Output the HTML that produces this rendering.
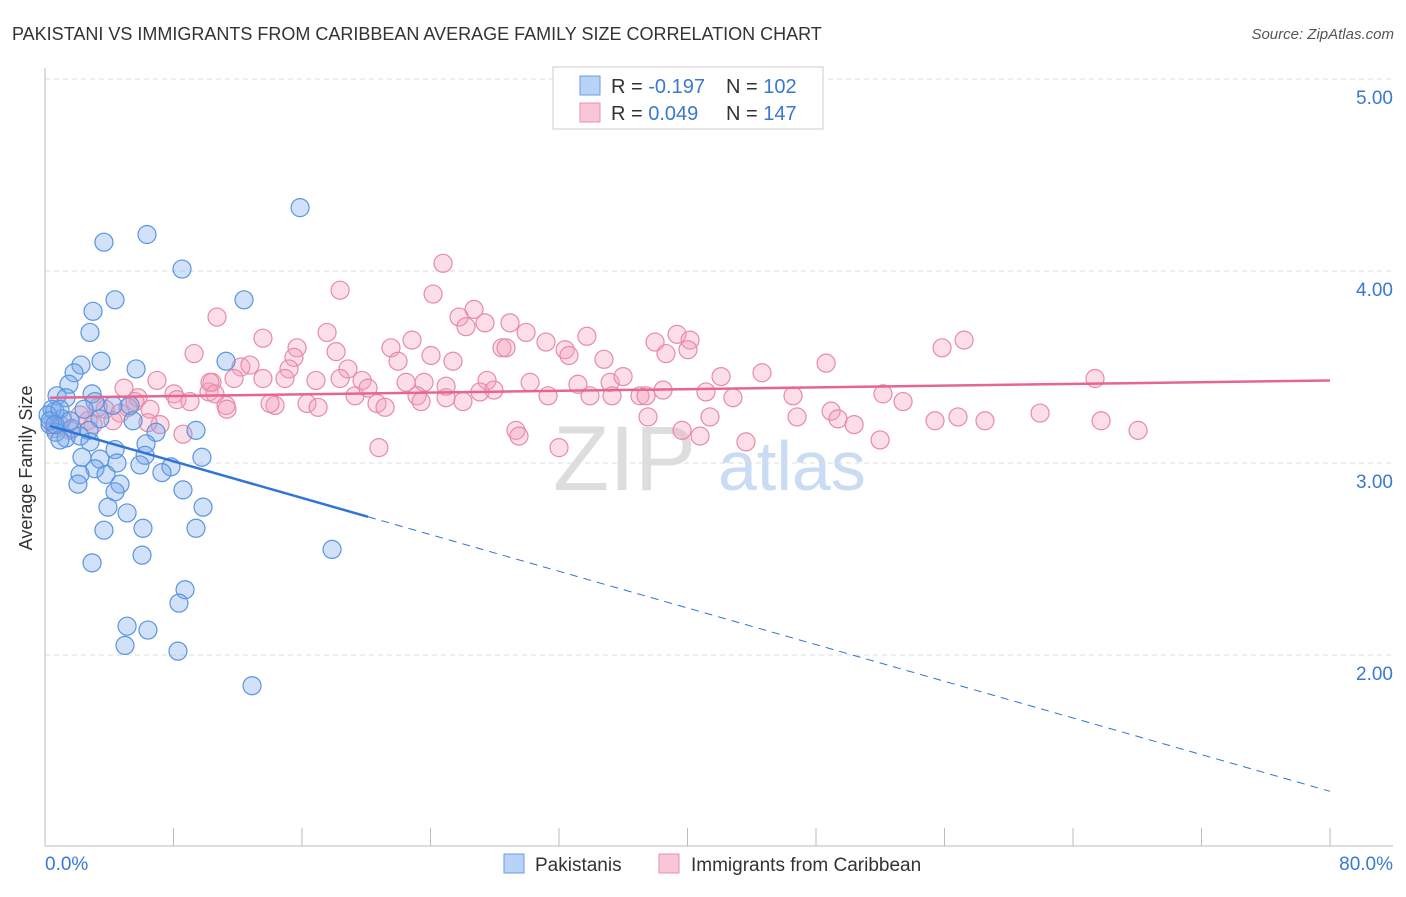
<!DOCTYPE html>
<html><head><meta charset="utf-8"><style>
body{margin:0;background:#fff;font-family:"Liberation Sans",sans-serif;}
svg text{font-family:"Liberation Sans",sans-serif;}
</style></head><body>
<svg id="c" width="1406" height="892" viewBox="0 0 1406 892" xmlns="http://www.w3.org/2000/svg">
<text x="12" y="40" font-size="18" fill="#333">PAKISTANI VS IMMIGRANTS FROM CARIBBEAN AVERAGE FAMILY SIZE CORRELATION CHART</text>
<text x="1394" y="39" font-size="15" fill="#555" font-style="italic" text-anchor="end">Source: ZipAtlas.com</text>
<g>
<text x="553" y="490" font-size="92" fill="#ddd" font-family="Liberation Serif">ZIP</text>
<text x="718" y="490" font-size="70" fill="#c9dcf3">atlas</text>
</g>
<g id="grid"></g><g id="axes"></g><g id="pts"></g><g id="trend"></g>
<g>
<rect x="553" y="67" width="270" height="62" fill="#fff" stroke="#ccc"/>
<rect x="580" y="76" width="20" height="19" fill="#b8d3f5" stroke="#6a9ee0"/>
<rect x="580" y="103" width="20" height="19" fill="#f9c6d6" stroke="#e890ad"/>
<text x="611" y="93" font-size="20" fill="#333">R = <tspan fill="#3a78d4">-0.197</tspan></text>
<text x="726" y="93" font-size="20" fill="#333">N = <tspan fill="#3a78d4">102</tspan></text>
<text x="611" y="120" font-size="20" fill="#333">R = <tspan fill="#3a78d4"> 0.049</tspan></text>
<text x="726" y="120" font-size="20" fill="#333">N = <tspan fill="#3a78d4">147</tspan></text>
</g>
<g>
<rect x="504" y="854" width="20" height="19" fill="#b8d3f5" stroke="#6a9ee0"/>
<text x="535" y="871" font-size="19" fill="#333">Pakistanis</text>
<rect x="659" y="854" width="20" height="19" fill="#f9c6d6" stroke="#e890ad"/>
<text x="691" y="871" font-size="19" fill="#333">Immigrants from Caribbean</text>
</g>
<text x="20" y="456" font-size="18" fill="#333" transform="rotate(-90 32 456)" text-anchor="middle">Average Family Size</text>
</svg>
<script>
const yTicks=[5,4,3,2];
const yTickLabels=["5.00","4.00","3.00","2.00"];
const xTickLabels=["0.0%","80.0%"];
const blueX=[15.88,6.35,3.67,8.53,4.36,12.39,2.99,2.80,3.49,2.24,1.81,5.67,11.27,1.49,2.93,0.75,1.31,3.11,4.23,5.29,2.43,0.62,1.06,3.42,5.48,1.68,2.74,0.31,0.68,1.31,2.18,2.80,6.91,9.40,6.29,0.93,4.36,6.23,9.77,2.30,3.42,4.48,5.91,7.84,3.11,2.18,3.80,7.28,4.67,2.05,8.59,4.36,9.84,3.92,5.11,3.67,6.10,9.40,17.87,2.93,6.04,8.72,8.34,5.11,6.41,4.98,8.28,12.89,0.44,0.19,0.31,0.93,1.56,0.62];
const blueY=[4.33,4.19,4.15,4.01,3.85,3.85,3.79,3.68,3.53,3.51,3.47,3.49,3.53,3.41,3.36,3.35,3.34,3.32,3.30,3.30,3.28,3.27,3.23,3.23,3.22,3.18,3.17,3.20,3.16,3.13,3.14,3.11,3.16,3.17,3.10,3.12,3.07,3.04,3.03,3.03,3.02,3.00,2.99,2.98,2.97,2.94,2.94,2.95,2.89,2.89,2.86,2.85,2.77,2.77,2.74,2.65,2.66,2.66,2.55,2.48,2.52,2.34,2.27,2.15,2.13,2.05,2.02,1.84,3.28,3.25,3.22,3.28,3.22,3.20];
const pinkX=[24.78,18.37,24.16,10.71,13.57,9.28,26.71,25.78,27.39,26.21,28.95,17.56,15.69,18.12,15.50,21.54,22.85,29.95,31.19,28.45,28.70,32.38,33.74,32.62,37.98,39.35,40.16,40.03,38.66,34.80,24.03,25.40,21.98,18.86,12.20,12.76,15.19,11.77,10.40,6.97,4.92,8.03,10.21,10.27,13.57,14.94,16.87,18.37,19.74,22.48,23.60,27.52,30.20,33.18,35.18,35.99,35.30,37.04,37.42,42.09,44.64,48.63,55.85,57.22,65.37,46.57,42.83,41.15,52.17,53.42,5.79,5.60,3.74,6.54,8.22,9.03,11.27,11.33,14.32,14.01,16.31,17.00,19.30,20.67,21.17,23.16,23.41,24.97,26.02,27.08,27.95,31.32,33.93,38.48,37.54,41.40,39.66,40.78,43.64,46.82,48.94,49.37,50.37,51.99,55.41,56.84,58.52,61.95,65.75,68.05,29.32,29.51,20.79,32.00,8.59,7.16,3.30,4.67,2.68,1.56,0.93,0.62,2.18,2.99,4.23,5.17,6.41,10.58,20.11,24.97];
const pinkY=[4.04,3.90,3.88,3.76,3.65,3.57,3.80,3.76,3.73,3.71,3.73,3.68,3.60,3.58,3.55,3.60,3.64,3.68,3.63,3.60,3.60,3.59,3.66,3.56,3.63,3.67,3.64,3.59,3.57,3.54,3.56,3.53,3.53,3.49,3.50,3.51,3.49,3.44,3.42,3.43,3.39,3.36,3.37,3.42,3.44,3.44,3.43,3.44,3.43,3.42,3.42,3.43,3.42,3.41,3.42,3.45,3.35,3.35,3.35,3.45,3.47,3.52,3.60,3.64,3.44,3.35,3.34,3.37,3.36,3.32,3.34,3.32,3.28,3.28,3.33,3.32,3.30,3.28,3.30,3.31,3.31,3.29,3.35,3.31,3.29,3.35,3.32,3.34,3.32,3.37,3.38,3.35,3.35,3.38,3.24,3.24,3.17,3.14,3.11,3.24,3.27,3.23,3.20,3.12,3.22,3.24,3.22,3.26,3.22,3.17,3.17,3.14,3.08,3.08,3.15,3.20,3.29,3.26,3.22,3.17,3.20,3.18,3.25,3.20,3.22,3.29,3.21,3.36,3.39,3.40];
const blueTrend=[3.20,1.29]; // y at x=0 and x=80
const blueSolidEnd=20.11;
const pinkTrend=[3.34,3.43];

const NS="http://www.w3.org/2000/svg";
const X0=45,X1=1330,YTOP=79,PX_PER=192;
const sx=v=>X0+(v/80)*(X1-X0);
const sy=v=>YTOP+(5-v)*PX_PER;
function mk(tag,attrs,parent){const e=document.createElementNS(NS,tag);for(const k in attrs)e.setAttribute(k,attrs[k]);parent.appendChild(e);return e;}
const grid=document.getElementById('grid'),axes=document.getElementById('axes'),pts=document.getElementById('pts'),trend=document.getElementById('trend');
yTicks.forEach((t,i)=>{
 const l=mk('line',{x1:45,x2:1393,y1:sy(t),y2:sy(t),stroke:'#ddd','stroke-dasharray':'5,4'},grid);
 
 
 const tx=mk('text',{x:1393,y:sy(t)+25,'font-size':19,fill:'#3a78d4','text-anchor':'end'},axes);
 tx.textContent=yTickLabels[i];
 
 
});
let a=mk('line',{x1:45,x2:45,y1:68,y2:846,stroke:'#bbb'},axes);


a=mk('line',{x1:45,x2:1393,y1:846,y2:846,stroke:'#bbb'},axes);


for(let k=0;k<=10;k++){
 const t=mk('line',{x1:sx(k*8),x2:sx(k*8),y1:828,y2:846,stroke:'#bbb'},axes);
 
 
}
let xl=mk('text',{x:45,y:870,'font-size':19,fill:'#3a78d4'},axes);xl.textContent=xTickLabels[0];


xl=mk('text',{x:1393,y:870,'font-size':19,fill:'#3a78d4','text-anchor':'end'},axes);xl.textContent=xTickLabels[1];


pinkX.forEach((v,i)=>{
 const c=mk('circle',{cx:sx(v),cy:sy(pinkY[i]),r:9,fill:'rgba(244,160,188,0.35)',stroke:'#e88aa8','stroke-width':1.2},pts);
 
 
});
blueX.forEach((v,i)=>{
 const c=mk('circle',{cx:sx(v),cy:sy(blueY[i]),r:9,fill:'rgba(120,170,235,0.35)',stroke:'#5a95e0','stroke-width':1.2},pts);
 
 
});
const by=x=>blueTrend[0]+(blueTrend[1]-blueTrend[0])*x/80;
let t=mk('line',{x1:sx(0.3),y1:sy(by(0.3)),x2:sx(blueSolidEnd),y2:sy(by(blueSolidEnd)),stroke:'#2f74d6','stroke-width':2.5},trend);


t=mk('line',{x1:sx(blueSolidEnd),y1:sy(by(blueSolidEnd)),x2:sx(80),y2:sy(by(80)),stroke:'#2f74d6','stroke-width':1,'stroke-dasharray':'8,6'},trend);


t=mk('line',{x1:sx(0.3),y1:sy(pinkTrend[0]),x2:sx(80),y2:sy(pinkTrend[1]),stroke:'#e6668f','stroke-width':2.5},trend);


</script>
</body></html>
